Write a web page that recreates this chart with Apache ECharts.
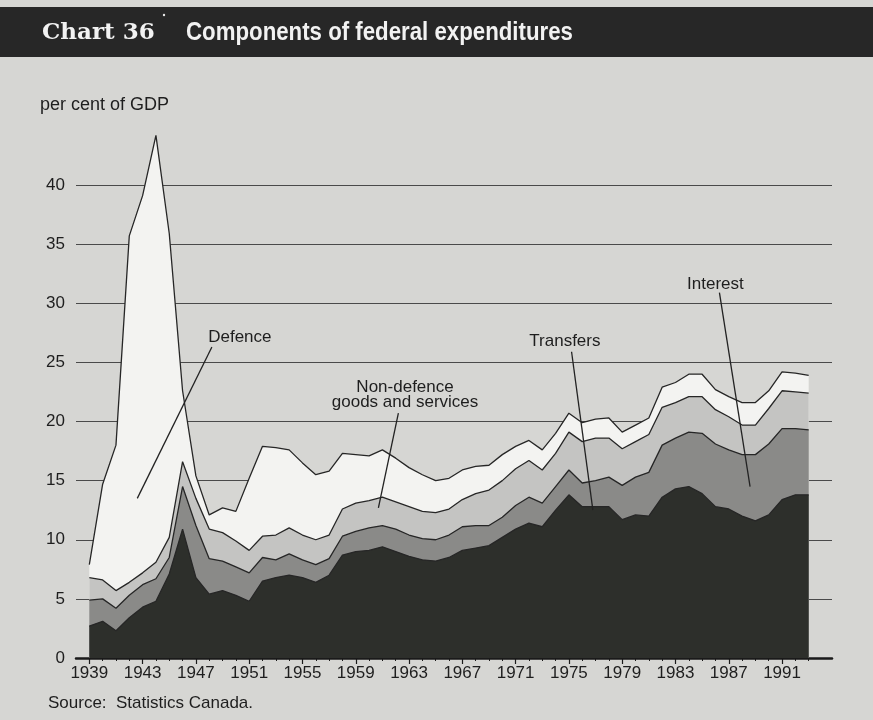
<!DOCTYPE html>
<html><head><meta charset="utf-8">
<script src="https://cdn.jsdelivr.net/npm/echarts@6/dist/echarts.min.js"></script>
<style>html,body{margin:0;padding:0;background:#d6d6d3;} #c{width:873px;height:720px;}</style>
</head><body><div id="c"></div>
<script>
const years = [1939,1940,1941,1942,1943,1944,1945,1946,1947,1948,1949,1950,1951,1952,1953,1954,1955,1956,1957,1958,1959,1960,1961,1962,1963,1964,1965,1966,1967,1968,1969,1970,1971,1972,1973,1974,1975,1976,1977,1978,1979,1980,1981,1982,1983,1984,1985,1986,1987,1988,1989,1990,1991,1992,1993];
const transfers = [2.7,3.1,2.3,3.4,4.3,4.8,7.1,10.9,6.8,5.4,5.7,5.3,4.8,6.5,6.8,7.0,6.8,6.4,7.0,8.7,9.0,9.1,9.4,9.0,8.6,8.3,8.2,8.5,9.1,9.3,9.5,10.2,10.9,11.4,11.1,12.5,13.8,12.8,12.8,12.8,11.7,12.1,12.0,13.6,14.3,14.5,13.9,12.8,12.6,12.0,11.6,12.1,13.4,13.8,13.8];
const interest = [2.2,1.9,1.9,1.9,1.9,1.9,1.4,3.6,4.4,3.0,2.5,2.4,2.4,2.0,1.5,1.8,1.5,1.5,1.4,1.6,1.7,1.9,1.8,1.9,1.8,1.8,1.8,1.9,2.0,1.9,1.7,1.7,2.0,2.2,2.0,2.0,2.1,2.0,2.2,2.5,2.9,3.2,3.7,4.4,4.3,4.6,5.1,5.3,5.0,5.2,5.6,6.0,6.0,5.6,5.5];
const nonDefence = [1.9,1.6,1.5,1.1,1.0,1.4,1.7,2.1,2.3,2.5,2.4,2.2,1.9,1.8,2.1,2.2,2.1,2.1,2.0,2.3,2.4,2.3,2.4,2.3,2.4,2.3,2.3,2.2,2.3,2.7,3.0,3.1,3.1,3.1,2.8,2.8,3.2,3.5,3.6,3.3,3.1,3.0,3.2,3.2,3.0,3.0,3.1,2.9,2.8,2.5,2.5,3.0,3.2,3.1,3.1];
const defence = [1.1,8.1,12.3,29.3,31.9,36.1,25.7,6.0,1.9,1.2,2.1,2.5,6.1,7.6,7.4,6.6,6.1,5.5,5.4,4.7,4.1,3.8,4.0,3.7,3.3,3.1,2.7,2.6,2.5,2.3,2.1,2.2,1.9,1.7,1.7,1.7,1.6,1.6,1.6,1.7,1.4,1.4,1.4,1.7,1.7,1.9,1.9,1.7,1.7,1.9,1.9,1.5,1.6,1.6,1.5];
const yearTickLabels = [1939,1943,1947,1951,1955,1959,1963,1967,1971,1975,1979,1983,1987,1991];
const valueTicks = [0,5,10,15,20,25,30,35,40];
const seriesNames = ['Transfers','Interest','Non-defence goods and services','Defence'];

// layers stacked bottom-to-top (cumulative sums of the component arrays)
const components = [transfers, interest, nonDefence, defence];
const fills = ['#2d2f2b','#8a8a88','#c4c4c2','#f3f3f1'];
const cumulative = [];
components.forEach((arr,k)=>{
  cumulative.push(arr.map((v,i)=> +(v + (k>0 ? cumulative[k-1][i] : 0)).toFixed(2)));
});

const chart = echarts.init(document.getElementById('c'), null, {renderer:'canvas'});
const lineCol = '#262626';
const FONT = '"Liberation Sans", Arial, sans-serif';
const series = [];
for (let k = components.length-1; k >= 0; k--) {
  series.push({name:seriesNames[k], type:'line', symbol:'none', smooth:false,
    data: years.map((y,i)=>[y, cumulative[k][i]]),
    lineStyle:{color:lineCol, width:1.3},
    areaStyle:{color:fills[k], opacity:1, origin:'start'},
    emphasis:{disabled:true}, z:2+(components.length-k)});
}
const option = {
  animation:false,
  backgroundColor:'#d6d6d3',
  grid:{left:76, right:41, top:125.9, bottom:62},
  xAxis:[{
    type:'value', min:1938, max:1994.75, position:'bottom',
    axisLine:{show:true, onZero:false, lineStyle:{color:'#1a1a1a', width:2.5}},
    axisTick:{show:true, customValues: yearTickLabels, length:6, lineStyle:{color:'#1a1a1a', width:1.2}},
    axisLabel:{show:true, customValues: yearTickLabels, formatter:v=>String(v), color:'#1e1e1e', fontSize:17, fontFamily:FONT, margin:7},
    splitLine:{show:false}
  },{
    type:'value', min:1938, max:1994.75, position:'bottom',
    axisLine:{show:false},
    axisTick:{show:true, customValues: years, length:3, lineStyle:{color:'#1a1a1a', width:1}},
    axisLabel:{show:false}, splitLine:{show:false}
  }],
  yAxis:{
    type:'value', min:0, max:45, interval:5,
    axisLine:{show:false}, axisTick:{show:false},
    axisLabel:{formatter:v=> valueTicks.indexOf(v)>=0 ? String(v) : '', color:'#1e1e1e', fontSize:17, fontFamily:FONT, margin:11},
    splitLine:{show:true, showMaxLine:false, lineStyle:{color:'#4a4a4a', width:1}}
  },
  series: series
};
chart.setOption(option);

const annotations = [
  {text:'Defence', at:[1950.3, 27.1], from:[1948.2, 26.3], to:[1942.6, 13.5]},
  {text:'Non-defence\ngoods and services', at:[1962.7, 22.3], from:[1962.2, 20.7], to:[1960.7, 12.7]},
  {text:'Transfers', at:[1974.7, 26.8], from:[1975.2, 25.9], to:[1976.8, 12.5]},
  {text:'Interest', at:[1986.0, 31.6], from:[1986.3, 30.9], to:[1988.6, 14.5]}
];
const px = p => chart.convertToPixel({seriesIndex:0}, p);
const g = [];
g.push({type:'rect', shape:{x:0, y:7, width:873, height:50}, style:{fill:'#272727'}, z:10});
g.push({type:'text', x:42, y:33, style:{text:'Chart 36', fill:'#f2f2f2', font:'bold 23px "DejaVu Serif", "Liberation Serif", serif', verticalAlign:'middle'}, z:11});
g.push({type:'circle', shape:{cx:164, cy:15, r:1.2}, style:{fill:'#e8e8e8'}, z:11});
g.push({type:'text', x:186, y:33, scaleX:0.89, style:{text:'Components of federal expenditures', fill:'#f2f2f2', font:'bold 25px "Liberation Sans", Arial, sans-serif', verticalAlign:'middle'}, z:11});
g.push({type:'text', x:40, y:105, style:{text:'per cent of GDP', fill:'#1e1e1e', font:'18px ' + FONT, verticalAlign:'middle'}, z:11});
g.push({type:'text', x:48, y:703, style:{text:'Source:  Statistics Canada.', fill:'#1e1e1e', font:'17px ' + FONT, verticalAlign:'middle'}, z:11});
annotations.forEach(a=>{
  const p = px(a.at), f = px(a.from), t = px(a.to);
  g.push({type:'text', x:p[0], y:p[1], style:{text:a.text, fill:'#1e1e1e', font:'17px ' + FONT, align:'center', verticalAlign:'middle', lineHeight:15}, z:11});
  g.push({type:'line', shape:{x1:f[0], y1:f[1], x2:t[0], y2:t[1]}, style:{stroke:'#222', lineWidth:1.3}, z:11});
});
chart.setOption({graphic:g});
</script></body></html>
